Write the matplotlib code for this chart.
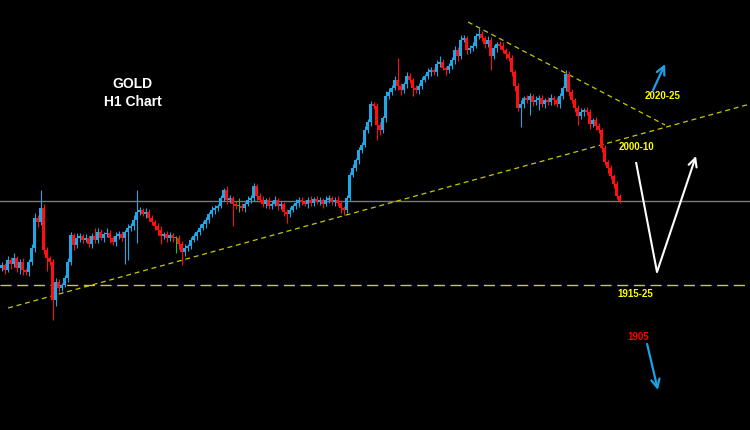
import matplotlib.pyplot as plt
import numpy as np

# H1 gold candles (price units)
first_open = 1932
closes = [
    1935, 1930, 1940, 1936, 1942, 1932, 1938, 1930, 1928, 1938,
    1952, 1982, 1978, 1992, 1950, 1942, 1938, 1900, 1918, 1912,
    1915, 1922, 1938, 1965, 1955, 1962, 1964, 1960, 1962, 1956,
    1964, 1960, 1968, 1962, 1966, 1967, 1962, 1958, 1964, 1966,
    1962, 1968, 1972, 1974, 1980, 1988, 1990, 1986, 1988, 1982,
    1978, 1974, 1970, 1964, 1966, 1962, 1965, 1962, 1962, 1956,
    1948, 1952, 1954, 1960, 1964, 1968, 1972, 1976, 1980, 1986,
    1990, 1992, 1994, 2002, 2010, 2000, 2002, 1996, 1994, 1994,
    1992, 1996, 2000, 2002, 2014, 2004, 2000, 1996, 2000, 1994,
    1996, 2000, 1994, 1996, 1988, 1986, 1990, 1994, 1997, 2000,
    1998, 1996, 2000, 1997, 2001, 1998, 2000, 1996, 2000, 2002,
    1998, 2000, 1997, 1992, 1990, 2002, 2025, 2032, 2040, 2050,
    2055, 2070, 2078, 2096, 2094, 2075, 2070, 2082, 2104, 2108,
    2112, 2120, 2114, 2110, 2116, 2124, 2120, 2112, 2110, 2114,
    2120, 2124, 2128, 2130, 2128, 2136, 2138, 2132, 2130, 2134,
    2140, 2150, 2144, 2160, 2162, 2150, 2152, 2154, 2164, 2166,
    2162, 2156, 2160, 2144, 2152, 2156, 2154, 2150, 2146, 2142,
    2128, 2114, 2092, 2096, 2102, 2100, 2104, 2098, 2100, 2102,
    2096, 2100, 2098, 2102, 2100, 2096, 2104, 2112, 2126, 2108,
    2100, 2092, 2084, 2088, 2090, 2088, 2076, 2080, 2074, 2070,
    2052, 2038, 2032, 2024, 2016, 2004, 1999,
]
upper_wicks = [
    3, 2, 4, 3, 5, 2, 3, 4, 2, 3,
    4, 5, 3, 18, 4, 3, 2, 3, 4, 3,
    2, 3, 4, 3, 2, 5, 3, 2, 4, 3,
    3, 8, 4, 3, 2, 5, 3, 2, 4, 3,
    3, 2, 4, 3, 5, 22, 3, 2, 4, 3,
    3, 2, 3, 4, 2, 3, 3, 2, 2, 3,
    3, 4, 2, 3, 3, 2, 4, 3, 3, 2,
    4, 3, 2, 3, 2, 4, 3, 2, 3, 8,
    3, 2, 4, 3, 3, 2, 3, 4, 2, 3,
    3, 4, 2, 3, 2, 3, 3, 2, 4, 3,
    3, 2, 3, 4, 2, 3, 3, 2, 4, 3,
    2, 3, 4, 3, 2, 3, 3, 4, 2, 3,
    3, 4, 3, 3, 2, 3, 3, 2, 5, 4,
    3, 4, 22, 3, 2, 4, 3, 2, 3, 3,
    3, 2, 4, 3, 2, 4, 6, 3, 2, 3,
    3, 4, 3, 5, 3, 2, 3, 4, 3, 6,
    3, 2, 4, 3, 3, 2, 3, 4, 2, 3,
    3, 2, 3, 4, 2, 3, 3, 2, 4, 3,
    3, 2, 3, 4, 2, 3, 3, 2, 4, 3,
    3, 2, 3, 4, 2, 3, 3, 2, 3, 3,
    2, 3, 2, 3, 2, 3, 2,
]
lower_wicks = [
    3, 4, 2, 5, 3, 4, 6, 5, 3, 4,
    3, 4, 5, 3, 4, 13, 3, 20, 6, 4,
    3, 2, 4, 3, 5, 3, 4, 3, 2, 3,
    4, 3, 3, 2, 4, 3, 5, 3, 4, 3,
    3, 26, 28, 3, 4, 23, 3, 2, 4, 3,
    3, 4, 5, 8, 3, 4, 3, 4, 15, 5,
    13, 4, 3, 3, 2, 4, 3, 2, 4, 3,
    3, 4, 3, 2, 3, 4, 3, 22, 3, 6,
    3, 4, 2, 3, 3, 4, 2, 3, 4, 3,
    3, 2, 4, 3, 4, 9, 3, 2, 3, 4,
    3, 2, 4, 3, 3, 2, 3, 4, 2, 3,
    3, 4, 3, 5, 5, 3, 3, 2, 3, 4,
    3, 2, 3, 4, 3, 15, 5, 3, 4, 3,
    3, 2, 4, 5, 3, 4, 3, 8, 3, 4,
    3, 2, 3, 4, 3, 4, 3, 2, 5, 3,
    3, 4, 5, 3, 2, 4, 3, 3, 2, 3,
    3, 4, 3, 14, 3, 4, 3, 3, 5, 3,
    4, 5, 3, 19, 4, 3, 15, 4, 3, 10,
    3, 4, 3, 3, 5, 3, 4, 3, 3, 4,
    3, 4, 9, 3, 4, 3, 5, 3, 4, 3,
    4, 3, 5, 3, 4, 3, 2,
]

current_price = 1999
support_level = 1915
rising_trend = ([2.2, 249.5], [1892, 2096])
falling_trend = ([155.5, 221.2], [2178, 2075])

closes = np.array(closes, dtype=float)
opens = np.concatenate([[first_open], closes[:-1]])
highs = np.maximum(opens, closes) + np.array(upper_wicks)
lows = np.minimum(opens, closes) - np.array(lower_wicks)
idx = np.arange(len(closes))

up_col, dn_col, doji_col = '#1ea8e8', '#ff1010', '#20c020'
colors = np.where(closes > opens, up_col, np.where(closes < opens, dn_col, doji_col))

fig = plt.figure(figsize=(7.5, 4.3), dpi=100, facecolor='black')
ax = fig.add_axes([0, 0, 1, 1], facecolor='black')

ax.axhline(current_price, color='#7a7a7a', lw=1.0, zorder=1)
ax.axhline(support_level, color='#c8c850', lw=1.0, dashes=(8, 4), zorder=1)
ax.plot(*rising_trend, color='#c8c800', lw=0.9, dashes=(4, 3), zorder=1)
ax.plot(*falling_trend, color='#c8c800', lw=0.9, dashes=(4, 3), zorder=1)

ax.vlines(idx, lows, highs, colors=colors, lw=0.8, zorder=2)
bottoms = np.minimum(opens, closes)
heights = np.maximum(np.abs(closes - opens), 0.8)
ax.bar(idx, heights, bottom=bottoms, width=0.75, color=colors, lw=0, zorder=3)

lbl = dict(ha='center', va='center', fontweight='bold', family=['Liberation Sans', 'DejaVu Sans'])
ax.text(43.8, 2116, 'GOLD', color='white', fontsize=10, **lbl)
ax.text(43.8, 2098, 'H1 Chart', color='white', fontsize=10, **lbl)
ax.text(220.2, 2104, '2020-25', color='#ffff00', fontsize=7, **lbl)
ax.text(211.5, 2053, '2000-10', color='#ffff00', fontsize=7, **lbl)
ax.text(211.2, 1906, '1915-25', color='#ffff00', fontsize=7, **lbl)
ax.text(212.2, 1863, '1905', color='#ff0000', fontsize=7, **lbl)

arr = '->,head_length=0.6,head_width=0.3'
ax.annotate('', xy=(221.2, 2136), xytext=(217.2, 2110),
            arrowprops=dict(arrowstyle=arr, color='#1ea0e6', lw=1.6, shrinkA=0, shrinkB=0))
ax.annotate('', xy=(218.8, 1810), xytext=(215.2, 1856),
            arrowprops=dict(arrowstyle=arr, color='#1ea0e6', lw=1.6, shrinkA=0, shrinkB=0))
ax.plot([211.5, 218.5], [2038, 1928], color='white', lw=1.5, solid_capstyle='butt')
ax.annotate('', xy=(231.5, 2044), xytext=(218.5, 1928),
            arrowprops=dict(arrowstyle=arr, color='white', lw=1.5, shrinkA=0, shrinkB=0))

ax.set_xlim(-0.5, 249.5)
ax.set_ylim(1770, 2200)
ax.axis('off')

fig.savefig('out.png', dpi=100, facecolor='black')
